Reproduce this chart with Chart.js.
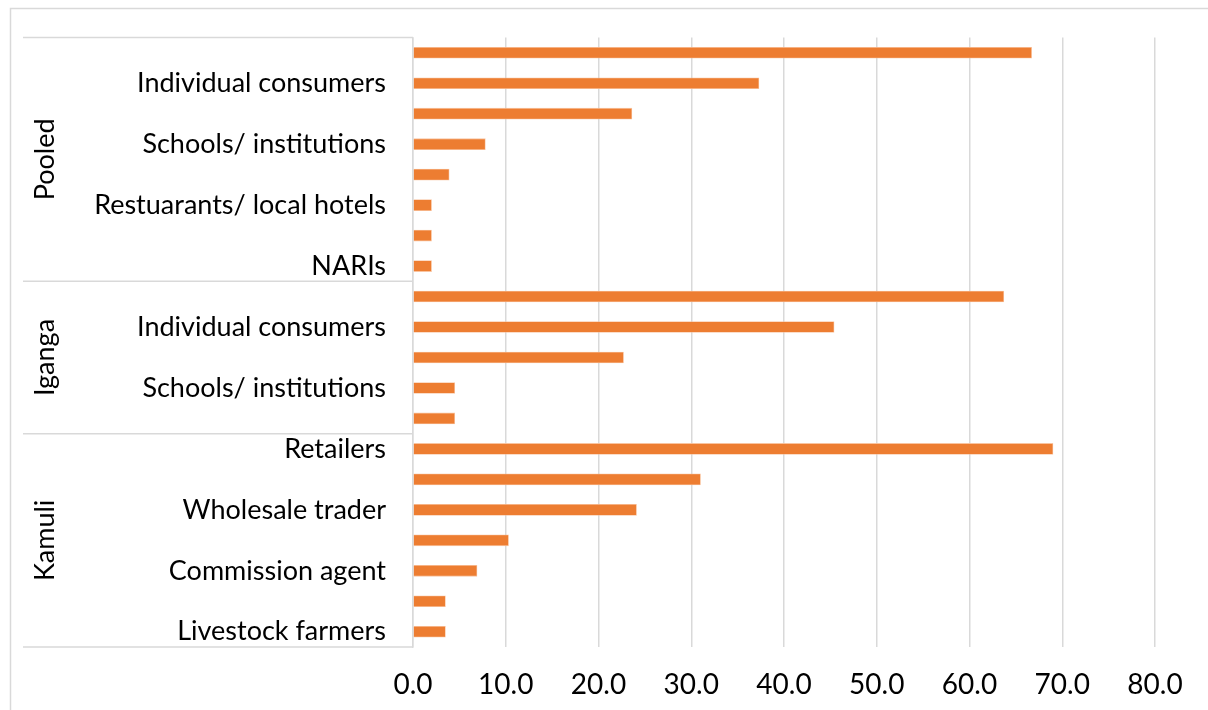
<!DOCTYPE html>
<html>
<head>
<meta charset="utf-8">
<script src="https://cdn.jsdelivr.net/npm/chart.js@4"></script>
<style>
  body { margin: 0; background: #fff; }
  #wrap { width: 1208px; height: 710px; }
</style>
</head>
<body>
<div id="wrap"><canvas id="myChart" width="1208" height="710"></canvas></div>
<script>
// group names and how many categories each group has (top to bottom)
var groups = ["Pooled", "Iganga", "Kamuli"];
var groupSizes = [8, 5, 7];

// category labels; Excel only printed every second one
var labels = [
  "", "Individual consumers", "", "Schools/ institutions", "", "Restuarants/ local hotels", "", "NARIs",
  "", "Individual consumers", "", "Schools/ institutions", "",
  "Retailers", "", "Wholesale trader", "", "Commission agent", "", "Livestock farmers"
];

var values = [
  66.7, 37.3, 23.6, 7.8, 3.9, 2.0, 2.0, 2.0,
  63.7, 45.4, 22.7, 4.5, 4.5,
  69.0, 31.0, 24.1, 10.3, 6.9, 3.5, 3.5
];

var xTicks = [0, 10, 20, 30, 40, 50, 60, 70, 80];

var FONT = "Lato, 'Open Sans', sans-serif";
var GRID = "#d9d9d9";

// frame, group separators and rotated group names on the left
var groupAxis = {
  id: "groupAxis",
  beforeDraw: function(chart) {
    var c = chart.ctx;
    c.save();
    c.fillStyle = "#fff";
    c.fillRect(0, 0, chart.width, chart.height);
    c.restore();
  },
  afterDraw: function(chart) {
    var c = chart.ctx;
    var y = chart.scales.y;
    var area = chart.chartArea;
    c.save();
    c.strokeStyle = GRID;
    c.lineWidth = 1.5;
    c.strokeRect(10.5, 8.5, chart.width + 20, chart.height + 20);

    var start = 0;
    var bounds = [y.getPixelForValue(-0.5)];
    for (var g = 0; g < groups.length; g++) {
      start += groupSizes[g];
      bounds.push(y.getPixelForValue(start - 0.5));
    }
    bounds.forEach(function(b) {
      c.beginPath();
      c.moveTo(23, b);
      c.lineTo(area.left, b);
      c.stroke();
    });

    c.fillStyle = "#000";
    c.font = "27px " + FONT;
    c.textAlign = "center";
    c.textBaseline = "middle";
    for (var i = 0; i < groups.length; i++) {
      var mid = (bounds[i] + bounds[i + 1]) / 2;
      c.save();
      c.translate(45, mid);
      c.rotate(-Math.PI / 2);
      c.fillText(groups[i], 0, 0);
      c.restore();
    }
    c.restore();
  }
};

var ctx = document.getElementById("myChart");
new Chart(ctx, {
  type: "bar",
  data: {
    labels: labels,
    datasets: [{
      data: values,
      backgroundColor: "#ED7D31",
      borderColor: "rgba(248,190,150,0.9)",
      borderWidth: 0.8,
      barThickness: 11
    }]
  },
  plugins: [groupAxis],
  options: {
    indexAxis: "y",
    responsive: false,
    animation: false,
    layout: { autoPadding: false, padding: { left: 0, top: 37.5, right: 53, bottom: 0 } },
    plugins: {
      legend: { display: false },
      tooltip: { enabled: false }
    },
    scales: {
      y: {
        afterFit: function(scale) {
          scale.width = 413;
          scale.paddingTop = 0;
          scale.paddingBottom = 0;
        },
        grid: { display: false, drawTicks: false },
        border: { display: true, color: GRID, width: 1.5 },
        ticks: {
          autoSkip: false,
          padding: 27,
          color: "#000",
          font: { family: FONT, size: 27 }
        }
      },
      x: {
        min: 0,
        max: 80,
        afterFit: function(scale) { scale.height = 63; },
        afterBuildTicks: function(scale) {
          scale.ticks = xTicks.map(function(v) { return { value: v }; });
        },
        grid: { color: GRID, lineWidth: 1.5, drawTicks: false },
        border: { display: false },
        ticks: {
          padding: 21,
          color: "#000",
          font: { family: FONT, size: 28 },
          callback: function(v) { return Number(v).toFixed(1); }
        }
      }
    }
  }
});
</script>
</body>
</html>
